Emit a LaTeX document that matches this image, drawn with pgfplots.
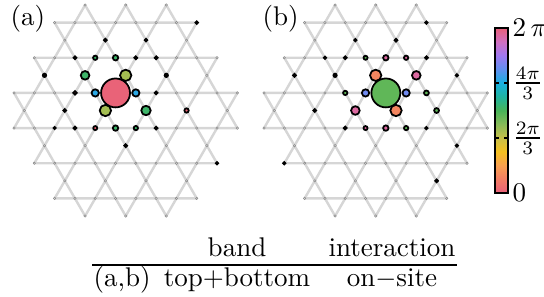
\documentclass[border=0pt]{standalone}
\usepackage{pgfplots}
\pgfplotsset{compat=1.18}
\usepackage{pgfplotstable}

\pgfplotsset{
  colormap={phase}{
    rgb255(0cm)=(232,96,122); rgb255(1cm)=(242,125,100); rgb255(2cm)=(248,160,80);
    rgb255(3cm)=(245,192,32); rgb255(4cm)=(200,192,72); rgb255(5cm)=(136,187,88);
    rgb255(6cm)=(72,180,88); rgb255(7cm)=(32,180,160); rgb255(8cm)=(24,176,224);
    rgb255(9cm)=(96,144,240); rgb255(10cm)=(160,120,240); rgb255(11cm)=(208,112,192);
    rgb255(12cm)=(232,96,122)},
  lat/.style={hide axis, scale only axis, x=7.511pt, y=7.511pt,
    xmin=-6, xmax=6, ymin=-5.4, ymax=5.4, clip=false,
    colormap name=phase, point meta min=0, point meta max=6.28319,
    unbounded coords=jump},
  bonds/.style={no marks, black!16, line width=0.9pt, line cap=round},
  graydots/.style={only marks, mark=*, mark size=0.45pt,
    mark options={fill=black!12, draw=black!45, line width=0.2pt}},
  blackdots/.style={scatter, only marks, mark=*, scatter src=x,
    scatter/use mapped color={draw=black, fill=black},
    visualization depends on={\thisrow{r} \as \rr},
    scatter/@pre marker code/.append style={/tikz/mark size=\rr pt}},
  phasecircles/.style={scatter, only marks, mark=*, scatter src=explicit,
    scatter/use mapped color={draw=black, fill=mapped color},
    mark options={line width=0.65pt},
    visualization depends on={\thisrow{r} \as \rr},
    scatter/@pre marker code/.append style={/tikz/mark size=\rr pt}},
}

% kagome bonds (straight runs), nan separates lines
\pgfplotstableread{
x y
-5.5 0.866
5.5 0.866
nan nan
-5.5 -0.866
5.5 -0.866
nan nan
-4.5 2.598
4.5 2.598
nan nan
-4.5 -2.598
4.5 -2.598
nan nan
-3.5 4.330
3.5 4.330
nan nan
-3.5 -4.330
3.5 -4.330
nan nan
-3.5 -4.330
2 5.196
nan nan
-2 -5.196
3.5 4.330
nan nan
-4.5 -2.598
0 5.196
nan nan
0 -5.196
4.5 2.598
nan nan
-5.5 -0.866
-2 5.196
nan nan
2 -5.196
5.5 0.866
nan nan
3.5 -4.330
-2 5.196
nan nan
2 -5.196
-3.5 4.330
nan nan
4.5 -2.598
0 5.196
nan nan
0 -5.196
-4.5 2.598
nan nan
5.5 -0.866
2 5.196
nan nan
-2 -5.196
-5.5 0.866
}\latlines

% all lattice sites
\pgfplotstableread{
x y
-5.5 0.866
-4.5 0.866
-3.5 0.866
-2.5 0.866
-1.5 0.866
-0.5 0.866
0.5 0.866
1.5 0.866
2.5 0.866
3.5 0.866
4.5 0.866
5.5 0.866
-5.5 -0.866
-4.5 -0.866
-3.5 -0.866
-2.5 -0.866
-1.5 -0.866
-0.5 -0.866
0.5 -0.866
1.5 -0.866
2.5 -0.866
3.5 -0.866
4.5 -0.866
5.5 -0.866
-4.5 2.598
-3.5 2.598
-2.5 2.598
-1.5 2.598
-0.5 2.598
0.5 2.598
1.5 2.598
2.5 2.598
3.5 2.598
4.5 2.598
-4.5 -2.598
-3.5 -2.598
-2.5 -2.598
-1.5 -2.598
-0.5 -2.598
0.5 -2.598
1.5 -2.598
2.5 -2.598
3.5 -2.598
4.5 -2.598
-3.5 4.330
-2.5 4.330
-1.5 4.330
-0.5 4.330
0.5 4.330
1.5 4.330
2.5 4.330
3.5 4.330
-3.5 -4.330
-2.5 -4.330
-1.5 -4.330
-0.5 -4.330
0.5 -4.330
1.5 -4.330
2.5 -4.330
3.5 -4.330
-5 0
-3 0
-1 0
1 0
3 0
5 0
-4 1.732
-2 1.732
0 1.732
2 1.732
4 1.732
-4 -1.732
-2 -1.732
0 -1.732
2 -1.732
4 -1.732
-3 3.464
-1 3.464
1 3.464
3 3.464
-3 -3.464
-1 -3.464
1 -3.464
3 -3.464
-2 5.196
0 5.196
2 5.196
-2 -5.196
0 -5.196
2 -5.196
}\sites

% panel (a): colored circles (r = mark size in pt, ph = phase)
\pgfplotstableread{
x y r ph
-0.5 0.866 5.35 0.05
-1.5 0.866 1.35 4.33
0.5 0.866 1.35 4.33
0 1.732 2.1 2.4
-1 0 2.1 2.4
-2 1.732 1.6 3.27
1 0 1.75 3.27
-0.5 2.598 1.0 3.27
-1.5 2.598 0.8 3.27
-0.5 -0.866 1.0 3.27
0.5 -0.866 0.8 3.27
-1.5 -0.866 0.75 0.1
-2.5 0.866 0.65 0.1
3 0 0.8 0.1
}\circA

\pgfplotstableread{
x y r
-2.5 2.598 0.7
0.5 2.598 0.7
1.5 2.598 0.7
1.5 0.866 0.7
-3.5 -0.866 0.55
-2.5 -0.866 0.7
1.5 -0.866 0.7
-3 0 0.7
-4 1.732 0.75
2 1.732 0.75
0 -1.732 0.7
-1 3.464 0.7
1 3.464 0.65
3.5 4.330 0.65
4.5 -2.598 0.6
}\blackA

% panel (b)
\pgfplotstableread{
x y r ph
0.5 0.866 5.35 2.95
-0.5 0.866 1.35 4.85
1.5 0.866 1.35 4.85
0 1.732 2.1 0.65
1 0 2.1 0.65
2 1.732 1.6 6.0
-1 0 1.6 6.0
-0.5 2.598 0.75 2.95
0.5 2.598 1.0 6.0
1.5 2.598 0.8 6.0
-1.5 0.866 0.8 2.95
2.5 0.866 0.9 2.95
-0.5 -0.866 0.75 6.0
0.5 -0.866 1.0 6.0
1.5 -0.866 0.8 2.95
3 0 0.9 2.95
}\circB

\pgfplotstableread{
x y r
-2.5 2.598 0.6
-1.5 2.598 0.7
2.5 2.598 0.7
-1.5 -0.866 0.7
2.5 -0.866 0.6
-3 0 0.7
-2 1.732 0.75
-4 1.732 0.7
4 1.732 0.6
4 -1.732 0.6
1 3.464 0.7
-1 3.464 0.6
3 -3.464 0.7
2.5 4.330 0.6
-4.5 -2.598 0.6
}\blackB

\begin{document}
\begin{tikzpicture}
\useasboundingbox (0,0) rectangle (201.28pt,109.89pt);

\begin{axis}[lat, at={(1.443pt,28.446pt)}, anchor=south west]
  \addplot[bonds] table {\latlines};
  \addplot[graydots] table {\sites};
  \addplot[blackdots] table[x=x,y=y] {\blackA};
  \addplot[phasecircles] table[x=x,y=y,meta=ph] {\circA};
\end{axis}

\begin{axis}[lat, at={(93.943pt,28.446pt)}, anchor=south west,
  colorbar,
  colorbar shift/.style={},
  colorbar style={at={(parent axis.south east)}, anchor=south west,
    xshift=-0.925pt, yshift=10.03pt, scale only axis,
    width=4.81pt, height=61.05pt,
    ytick={0,2.0944,4.18879,6.28319},
    yticklabels={$0$,$\frac{2\pi}{3}$,$\frac{4\pi}{3}$,$2\,\pi$},
    tick align=inside, major tick length=1.5pt,
    ytick style={line width=0.6pt, black},
    axis line style={line width=0.6pt},
    yticklabel style={inner sep=1.5pt}}]
  \addplot[bonds] table {\latlines};
  \addplot[graydots] table {\sites};
  \addplot[blackdots] table[x=x,y=y] {\blackB};
  \addplot[phasecircles] table[x=x,y=y,meta=ph] {\circB};
\end{axis}

\node[anchor=base west, inner sep=0pt] at (3.7pt,100.27pt) {(a)};
\node[anchor=base west, inner sep=0pt] at (96.94pt,100.27pt) {(b)};

% table below the panels
\node[anchor=base, inner sep=0pt] at (87.7pt,14.8pt) {band};
\node[anchor=base, inner sep=0pt] at (145.05pt,14.8pt) {interaction};
\draw[line width=0.7pt] (34.04pt,11.84pt) -- (169.1pt,11.84pt);
\node[anchor=base west, inner sep=0pt] at (34.41pt,3.7pt) {(a,b)};
\node[anchor=base, inner sep=0pt] at (87.7pt,3.7pt) {top+bottom};
\node[anchor=base, inner sep=0pt] at (145.05pt,3.7pt) {on$-$site};
\end{tikzpicture}
\end{document}
